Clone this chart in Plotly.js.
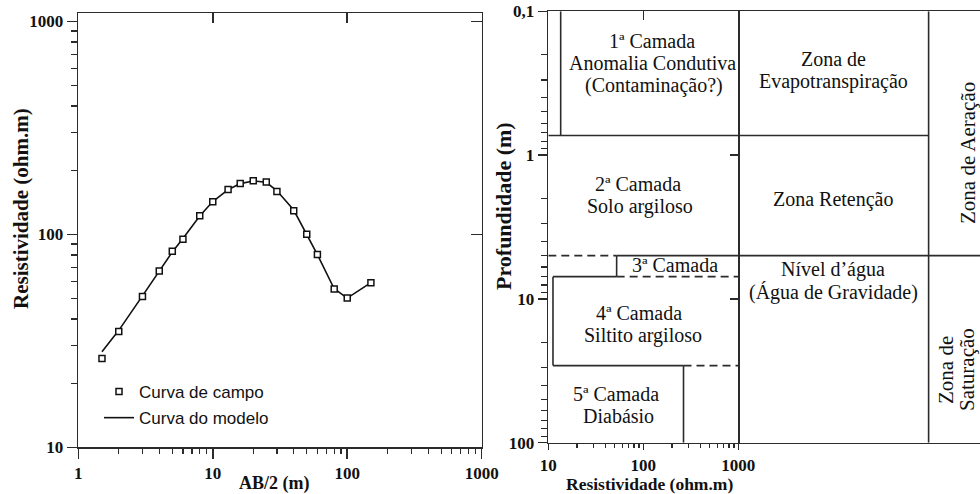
<!DOCTYPE html>
<html>
<head>
<meta charset="utf-8">
<script src="https://cdn.plot.ly/plotly-3.0.1.min.js"></script>
<style>html,body{margin:0;padding:0;background:#fff}#chart{width:980px;height:494px}</style>
</head>
<body>
<div id="chart"></div>
<script>
// ---------- Left chart: sondagem elétrica vertical ----------
const ab2 = [1.5, 2, 3, 4, 5, 6, 8, 10, 13, 16, 20, 25, 30, 40, 50, 60, 80, 100, 150];
const rhoField = [26.1, 35.0, 51.1, 67.3, 83.2, 94.8, 122.3, 142.3, 162.3, 173, 178.5, 176, 158.9, 129, 100, 80.3, 55.3, 50.2, 59.3];
const rhoModel = [28.1, 35.4, 51.4, 67.3, 82.6, 95.6, 121.8, 142.5, 162.0, 173, 178, 175.5, 160, 130, 100.5, 80.2, 55.5, 50.2, 59.3];
const leftXTickVals = [1, 10, 100, 1000];
const leftXTickText = ['1', '10', '100', '1000'];
const leftYTickVals = [10, 100, 1000];
const leftYTickText = ['10', '100', '1000'];

// ---------- Right chart: modelo geoelétrico ----------
const rightXTickVals = [10, 100, 1000];
const rightXTickText = ['10', '100', '1000'];
const rightYTickVals = [0.1, 1, 10, 100];
const rightYTickText = ['0,1', '1', '10', '100'];
const layerRes  = [13.5, 10, 52.4, 11.2, 265];   // ohm.m
const layerBase = [0.73, 5.0, 7.0, 29.1, 100];   // profundidade da base (m)
const resMin = 10, resMax = 1000, depthTop = 0.1;
const zoneBase = [0.73, 5.0, 100];               // Evapotranspiração, Retenção, Nível d'água
const bigZoneBase = [5.0, 100];                   // Aeração, Saturação

const F_SERIF = "'Liberation Serif', 'Times New Roman', serif";
const F_SANS = "'Liberation Sans', Arial, sans-serif";
const W = 980, H = 494;
const px = v => v / W;
const py = v => 1 - v / H;
const INK = '#2b2b2b';

// build layer boundary polylines from the layer arrays
function seg(arr, x0, y0, x1, y1) { arr.x.push(x0, x1, null); arr.y.push(y0, y1, null); }
const solid = {x: [], y: []}, dashed = {x: [], y: []};
seg(solid, layerRes[0], depthTop, layerRes[0], layerBase[0]);
seg(solid, resMin, layerBase[0], resMax, layerBase[0]);
seg(solid, layerRes[2], layerBase[1], resMax, layerBase[1]);
seg(solid, layerRes[2], layerBase[1], layerRes[2], layerBase[2]);
seg(solid, layerRes[3], layerBase[2], layerRes[2], layerBase[2]);
seg(solid, layerRes[3], layerBase[2], layerRes[3], layerBase[3]);
seg(solid, layerRes[3], layerBase[3], layerRes[4], layerBase[3]);
seg(solid, layerRes[4], layerBase[3], layerRes[4], layerBase[4]);
seg(dashed, resMin, layerBase[1], layerRes[2], layerBase[1]);
seg(dashed, layerRes[2], layerBase[2], resMax, layerBase[2]);
seg(dashed, layerRes[4], layerBase[3], resMax, layerBase[3]);

// zone table (x5: column 0..1 detailed zones, 1..1.27 big zones)
const zone = {x: [], y: []};
seg(zone, 1, depthTop, 1, bigZoneBase[1]);
seg(zone, 0, zoneBase[0], 1, zoneBase[0]);
seg(zone, 0, bigZoneBase[0], 1.27, bigZoneBase[0]);

function ghost(xa, ya) { return {x: [], y: [], xaxis: xa, yaxis: ya, showlegend: false}; }

const traces = [
  {x: ab2, y: rhoModel, mode: 'lines', name: 'Curva do modelo', legendrank: 2, legendgroup: 'm',
   line: {color: '#111', width: 1.6}, xaxis: 'x', yaxis: 'y'},
  {x: ab2, y: rhoField, mode: 'markers', name: 'Curva de campo', legendrank: 1, legendgroup: 'f',
   marker: {symbol: 'square', size: 6, color: '#fff', line: {color: '#111', width: 1.5}}, xaxis: 'x', yaxis: 'y'},
  ghost('x3', 'y'), ghost('x', 'y3'), ghost('x6', 'y'), ghost('x', 'y6'),
  {x: solid.x, y: solid.y, mode: 'lines', line: {color: INK, width: 1.6}, xaxis: 'x2', yaxis: 'y2', showlegend: false, connectgaps: false},
  {x: dashed.x, y: dashed.y, mode: 'lines', line: {color: INK, width: 1.6, dash: '8px,5px'}, xaxis: 'x2', yaxis: 'y2', showlegend: false, connectgaps: false},
  {x: zone.x, y: zone.y, mode: 'lines', line: {color: INK, width: 1.6}, xaxis: 'x5', yaxis: 'y2', showlegend: false, connectgaps: false},
  ghost('x4', 'y2'), ghost('x2', 'y4'), ghost('x7', 'y2'), ghost('x2', 'y7')
];

const tickFont = {family: F_SERIF, size: 17, weight: 'bold', color: '#111'};
const base = {showgrid: false, zeroline: false, showline: true, linecolor: INK, linewidth: 1.6,
              tickcolor: INK, tickwidth: 1.5, fixedrange: true};
const mirrorAx = Object.assign({}, base, {ticks: 'inside', showticklabels: false});
// overlay axes that draw the 2..9 minor ticks of every decade
const minorAx = Object.assign({}, base, {ticks: 'outside', showticklabels: false, showline: false,
              tickwidth: 1.2, tickmode: 'linear', dtick: 'D1'});

const layout = {
  width: W, height: H,
  margin: {l: 0, r: 0, t: 0, b: 0, pad: 0},
  paper_bgcolor: '#fff', plot_bgcolor: 'rgba(0,0,0,0)',
  hovermode: false,
  showlegend: true,
  legend: {x: px(99), y: py(374), xanchor: 'left', yanchor: 'top', bgcolor: 'rgba(0,0,0,0)',
           font: {family: F_SANS, size: 17, color: '#111'}, traceorder: 'grouped', tracegroupgap: 1},
  xaxis: Object.assign({}, base, {
    domain: [px(78.3), px(481.7)], anchor: 'y', type: 'log', range: [0, 3],
    tickmode: 'array', tickvals: leftXTickVals, ticktext: leftXTickText,
    ticks: 'outside', ticklen: 10, tickfont: tickFont
  }),
  yaxis: Object.assign({}, base, {
    domain: [py(447.3), py(13.3)], anchor: 'x', type: 'log', range: [1, 3.0376],
    tickmode: 'array', tickvals: leftYTickVals, ticktext: leftYTickText,
    ticks: 'outside', ticklen: 10, tickfont: tickFont
  }),
  xaxis3: Object.assign({}, mirrorAx, {overlaying: 'x', side: 'top', anchor: 'y', type: 'log', range: [0, 3],
    tickmode: 'array', tickvals: leftXTickVals, ticklen: 10}),
  yaxis3: Object.assign({}, mirrorAx, {overlaying: 'y', side: 'right', anchor: 'x', type: 'log', range: [1, 3.0376],
    tickmode: 'array', tickvals: leftYTickVals, ticklen: 11}),
  xaxis6: Object.assign({}, minorAx, {overlaying: 'x', side: 'bottom', anchor: 'y', type: 'log', range: [0, 3], ticklen: 6}),
  yaxis6: Object.assign({}, minorAx, {overlaying: 'y', side: 'left', anchor: 'x', type: 'log', range: [1, 3.0376], ticklen: 6}),
  xaxis2: Object.assign({}, base, {
    domain: [px(548.3), px(738.3)], anchor: 'y2', type: 'log', range: [1, 3],
    tickmode: 'array', tickvals: rightXTickVals, ticktext: rightXTickText,
    ticks: 'outside', ticklen: 6, tickfont: tickFont
  }),
  yaxis2: Object.assign({}, base, {
    domain: [py(442.7), py(11.3)], anchor: 'x2', type: 'log', range: [2, -1],
    tickmode: 'array', tickvals: rightYTickVals, ticktext: rightYTickText,
    ticks: 'outside', ticklen: 9, tickfont: tickFont
  }),
  xaxis4: Object.assign({}, mirrorAx, {overlaying: 'x2', side: 'top', anchor: 'y2', type: 'log', range: [1, 3],
    tickmode: 'array', tickvals: rightXTickVals, ticklen: 9}),
  yaxis4: Object.assign({}, mirrorAx, {overlaying: 'y2', side: 'right', anchor: 'x2', type: 'log', range: [2, -1],
    tickmode: 'array', tickvals: rightYTickVals, ticklen: 8}),
  xaxis7: Object.assign({}, minorAx, {overlaying: 'x2', side: 'bottom', anchor: 'y2', type: 'log', range: [1, 3], ticklen: 4}),
  yaxis7: Object.assign({}, minorAx, {overlaying: 'y2', side: 'left', anchor: 'x2', type: 'log', range: [2, -1], ticklen: 6}),
  xaxis5: Object.assign({}, base, {domain: [px(738.3), 1], anchor: 'y2', range: [0, 1.27], mirror: true,
    ticks: '', showticklabels: false}),
  annotations: []
};

function label(text, x, y, opts) {
  opts = opts || {};
  layout.annotations.push({
    text: text, x: px(x), y: py(y), xref: 'paper', yref: 'paper', showarrow: false,
    xanchor: 'center', yanchor: 'middle', textangle: opts.angle || 0,
    font: {family: F_SERIF, size: opts.size || 20, color: '#111', weight: opts.bold ? 'bold' : 'normal'}
  });
}
// axis titles
label('AB/2 (m)', 274, 483, {size: 18, bold: true});
label('Resistividade (ohm.m)', 649, 483.5, {size: 17.5, bold: true});
label('Resistividade (ohm.m)', 21, 209, {angle: -90, size: 21, bold: true});
label('Profundidade (m)', 503, 206, {angle: -90, size: 22, bold: true});
// layers
label('1ª Camada', 652, 41);
label('Anomalia Condutiva', 652, 63);
label('(Contaminação?)', 654, 85);
label('2ª Camada', 638, 184);
label('Solo argiloso', 640, 206);
label('3ª Camada', 675, 265);
label('4ª Camada', 639, 313);
label('Siltito argiloso', 643, 335);
label('5ª Camada', 616, 394);
label('Diabásio', 618, 416);
// zones
label('Zona de', 833, 59);
label('Evapotranspiração', 833, 81);
label('Zona Retenção', 833, 199);
label('Nível d’água', 833, 269);
label('(Água de Gravidade)', 833, 292);
label('Zona de Aeração', 968, 153, {angle: -90, size: 21});
label('Zona de', 946, 370, {angle: -90, size: 21});
label('Saturação', 967, 370, {angle: -90, size: 21});

Plotly.newPlot('chart', traces, layout, {staticPlot: true, displayModeBar: false});
</script>
</body>
</html>
